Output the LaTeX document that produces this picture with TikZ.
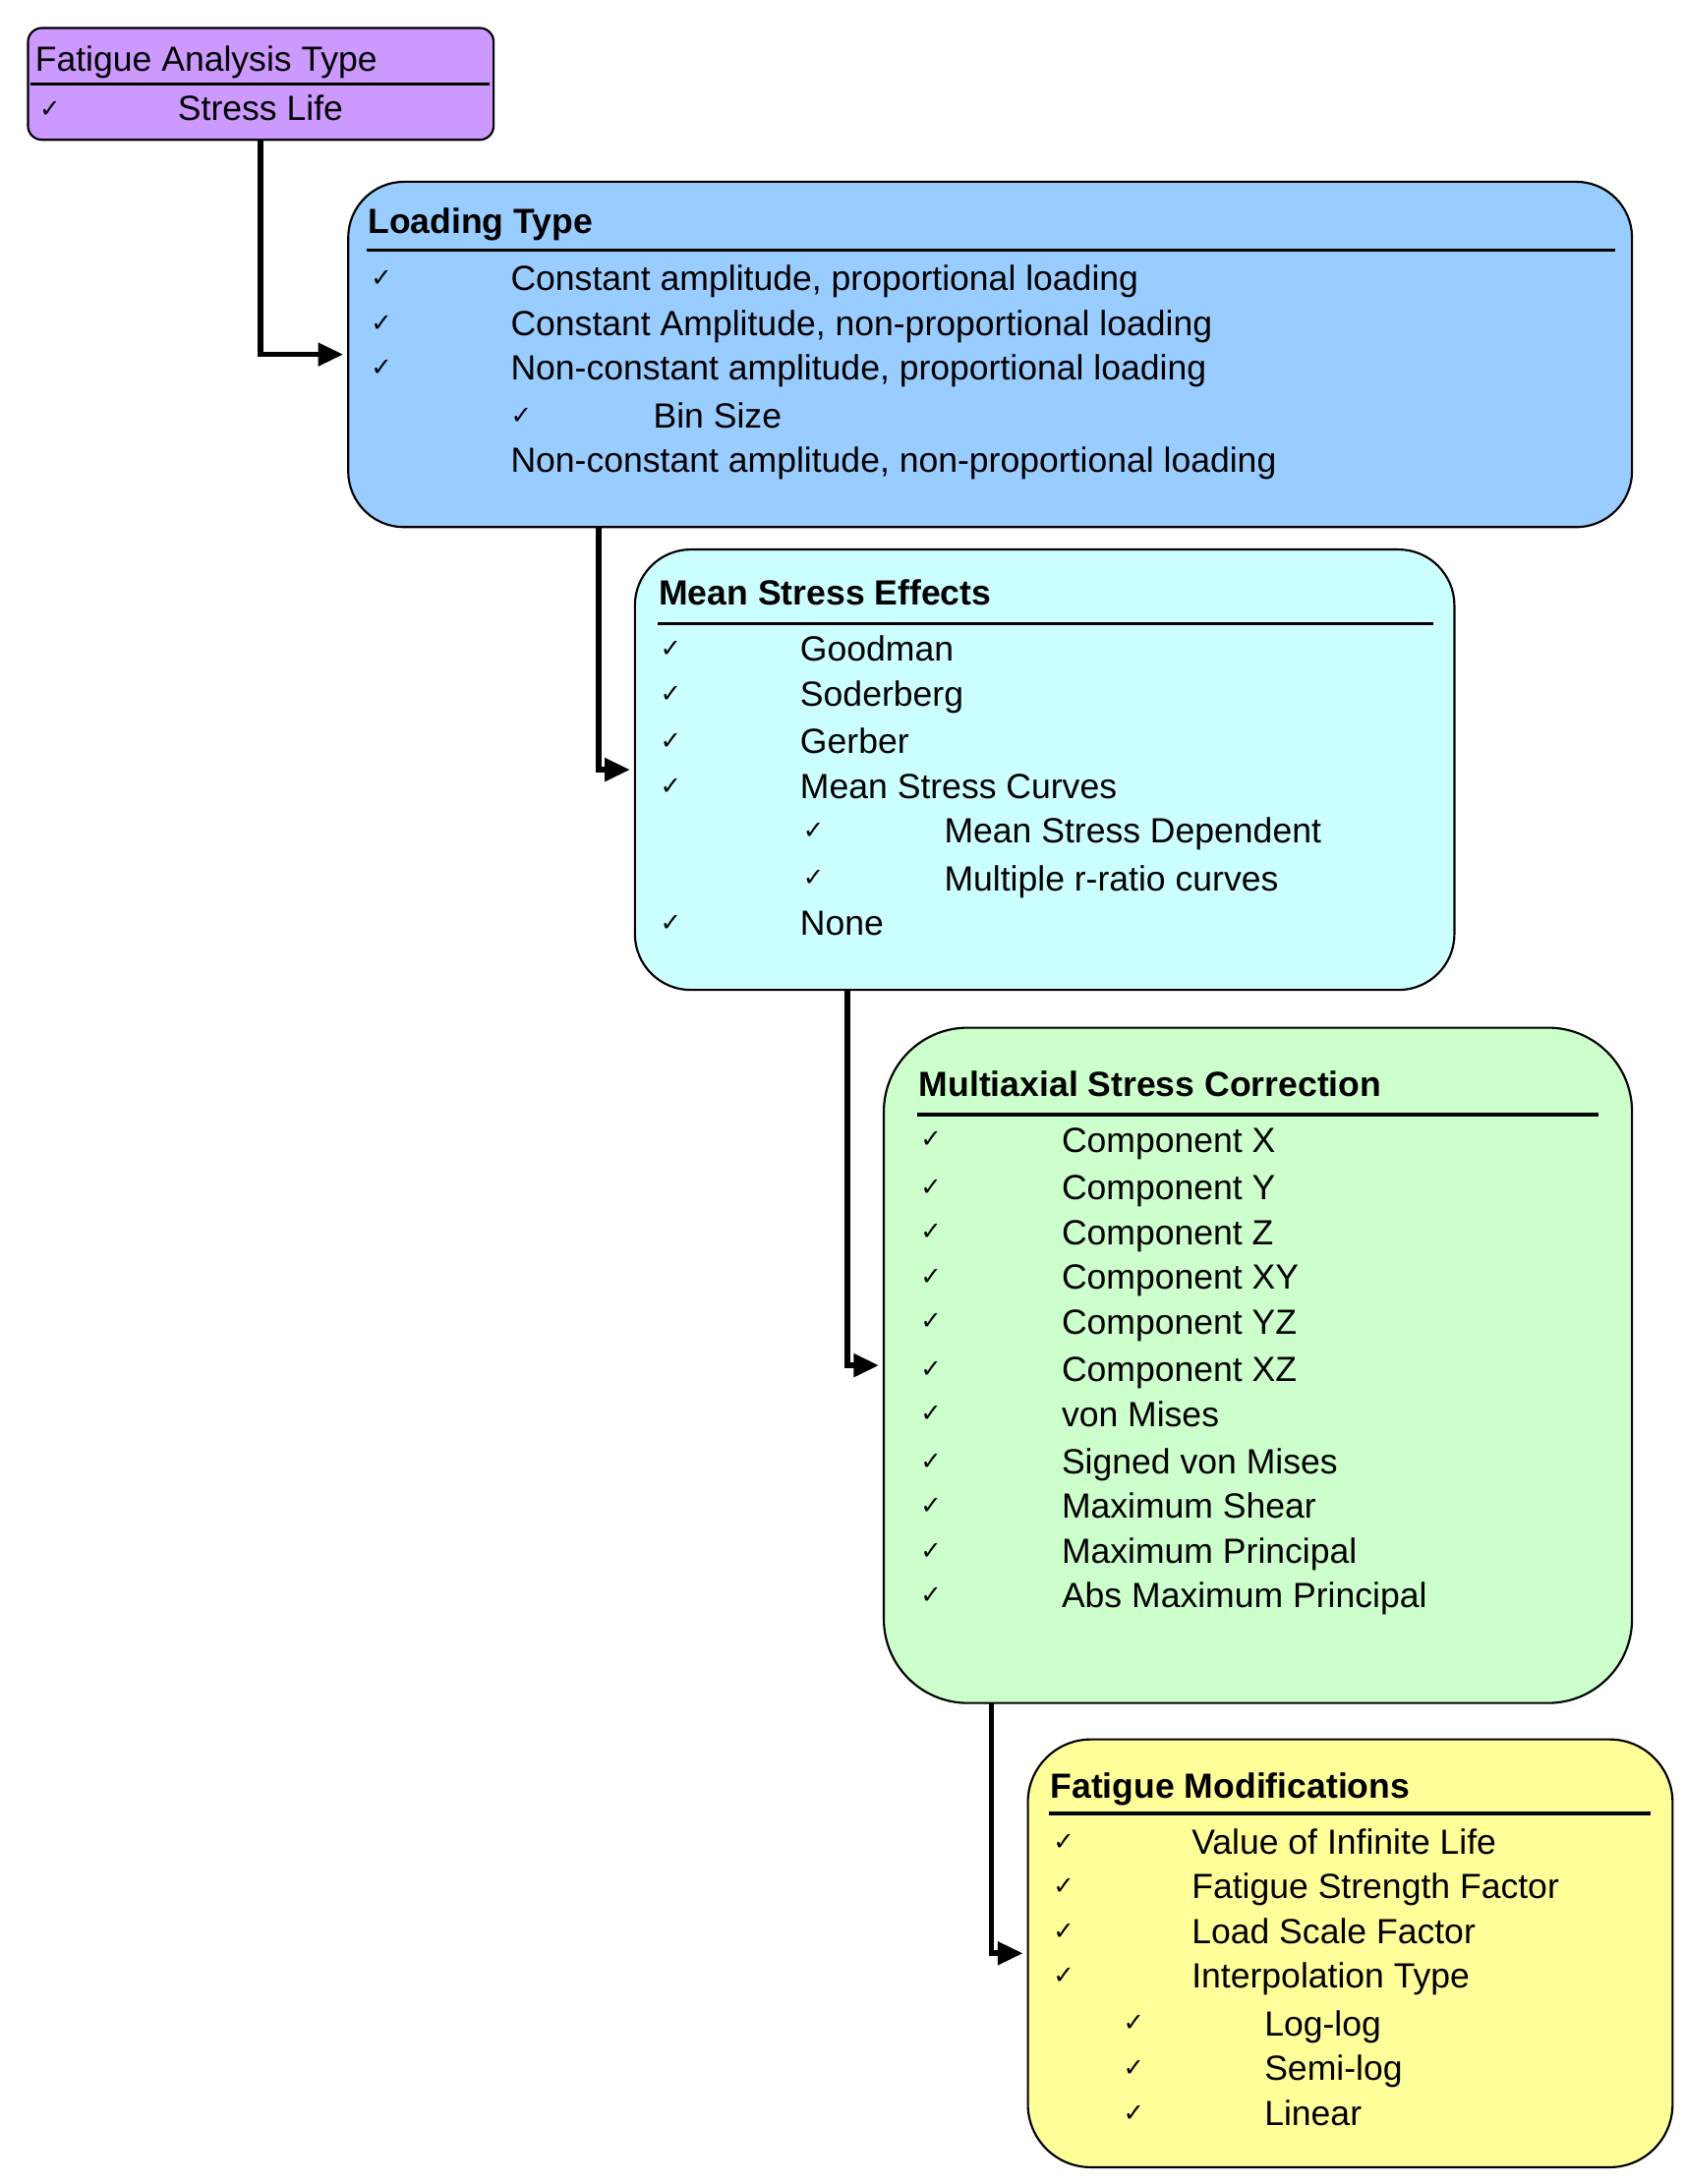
\documentclass[tikz,border=0pt]{standalone}
\usepackage{fontspec}
\setmainfont{Liberation Sans}
\newfontfamily\chkfont{DejaVu Sans}
\usetikzlibrary{arrows.meta}
\tikzset{
  box/.style={draw=black, line width=1.5pt, inner sep=0pt},
  hrule/.style={line width=2.5pt},
  conn/.style={line width=4pt, -{Triangle[length=18pt,width=16pt]}},
  txt/.style={anchor=base west, inner sep=0pt, font=\fontsize{25}{30}\selectfont},
  ttl/.style={txt, font=\fontsize{25}{30}\selectfont\bfseries},
}
\newcommand{\ck}{{\chkfont\fontsize{18}{20}\selectfont ✓}}
\begin{document}
\begin{tikzpicture}[x=1pt,y=-1pt]
    \useasboundingbox (0,0) rectangle (1204,1562);

    % boxes
    \draw [box, fill={rgb,255:red,204;green,153;blue,255}, rounded corners=10pt] (20,20) rectangle (353,100);
    \node (fat) at (186.5,60) {};
    \draw [box, fill={rgb,255:red,153;green,204;blue,255}, rounded corners=40pt] (249,130) rectangle (1167,377);
    \node (load) at (249,253.5) {};
    \draw [box, fill={rgb,255:red,204;green,255;blue,255}, rounded corners=40pt] (454,393) rectangle (1040,708);
    \node (mean) at (454,550.5) {};
    \draw [box, fill={rgb,255:red,204;green,255;blue,204}, rounded corners=60pt] (632,735) rectangle (1167,1218);
    \node (multi) at (632,976.5) {};
    \draw [box, fill={rgb,255:red,255;green,255;blue,153}, rounded corners=45pt] (735,1244) rectangle (1196,1550);
    \node (mods) at (735,1397) {};

    % fatigue analysis type
    \node [txt] (t1) at (25,51) {Fatigue Analysis Type};
    \draw [hrule] (22,60) -- (350,60);
    \node [txt] (c1) at (28,84) {\ck};
    \node [txt] (s1) at (127,86) {Stress Life};

    % loading type
    \node [ttl] (t2) at (263,167) {Loading Type};
    \draw [hrule] (262,179) -- (1155,179);
    \foreach \y/\t in {199/{Constant amplitude, proportional loading},
                       231/{Constant Amplitude, non-proportional loading},
                       263/{Non-constant amplitude, proportional loading}} {
        \node [txt] at (265,\y+6) {\ck};
        \node [txt] at (365,\y+9) {\t};
    }
    \node [txt] at (365,303) {\ck};
    \node [txt] at (467,306) {Bin Size};
    \node [txt] at (365,338) {Non-constant amplitude, non-proportional loading};

    % mean stress effects
    \node [ttl] (t3) at (471,433) {Mean Stress Effects};
    \draw [hrule] (470,446) -- (1025,446);
    \foreach \y/\t in {464/Goodman, 496/Soderberg, 530/Gerber, 562/Mean Stress Curves, 660/None} {
        \node [txt] at (472,\y+6) {\ck};
        \node [txt] at (572,\y+9) {\t};
    }
    \foreach \y/\t in {594/Mean Stress Dependent, 628/Multiple r-ratio curves} {
        \node [txt] at (574,\y+6) {\ck};
        \node [txt] at (675,\y+9) {\t};
    }

    % multiaxial stress correction
    \node [ttl] (t4) at (657,784) {Multiaxial Stress Correction};
    \draw [hrule] (656,797) -- (1143,797);
    \foreach \y/\t in {815/Component X, 849/Component Y, 881/Component Z, 913/Component XY,
                       945/Component YZ, 979/Component XZ, 1011/von Mises, 1045/Signed von Mises,
                       1077/Maximum Shear, 1109/Maximum Principal, 1141/Abs Maximum Principal} {
        \node [txt] at (658,\y+6) {\ck};
        \node [txt] at (759,\y+9) {\t};
    }

    % fatigue modifications
    \node [ttl] (t5) at (751,1286) {Fatigue Modifications};
    \draw [hrule] (750,1297) -- (1180,1297);
    \foreach \y/\t in {1317/Value of Infinite Life, 1349/Fatigue Strength Factor,
                       1381/Load Scale Factor, 1413/Interpolation Type} {
        \node [txt] at (753,\y+6) {\ck};
        \node [txt] at (852,\y+9) {\t};
    }
    \foreach \y/\t in {1447/Log-log, 1479/Semi-log, 1511/Linear} {
        \node [txt] at (803,\y+6) {\ck};
        \node [txt] at (904,\y+9) {\t};
    }

    % connectors
    \coordinate (f1) at (186.5,100);
    \coordinate (l1) at (428,377);
    \coordinate (m1) at (606,708);
    \coordinate (x1) at (709,1218);
    \draw [conn] (f1) |- (load);
    \draw [conn] (l1) |- (mean);
    \draw [conn] (m1) |- (multi);
    \draw [conn] (x1) |- (mods);
\end{tikzpicture}
\end{document}
